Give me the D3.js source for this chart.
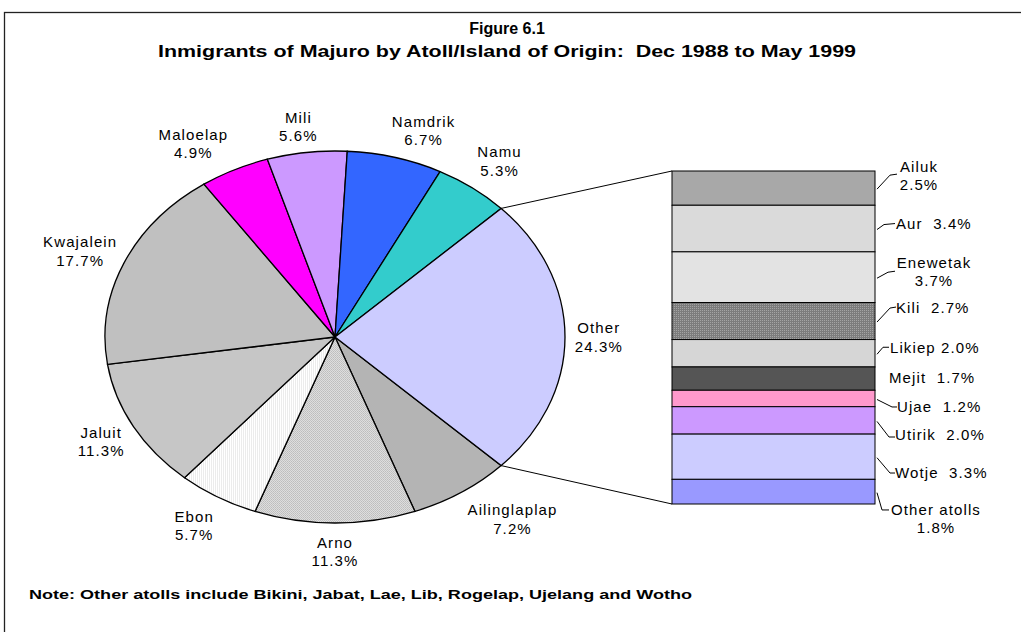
<!DOCTYPE html>
<html>
<head>
<meta charset="utf-8">
<script src="https://cdn.jsdelivr.net/npm/d3@7"></script>
<style>
    body { margin: 0; background: #fff; }
    text { font-family: "Liberation Sans", Arial, sans-serif; fill: #000; white-space: pre; }
</style>
</head>
<body>
<svg id="chart" width="1021" height="632"></svg>
<script>
// pie slices, clockwise, "Other" last (it is split out into the bar)
const pieNames = ['Ailinglaplap', 'Arno', 'Ebon', 'Jaluit', 'Kwajalein', 'Maloelap', 'Mili', 'Namdrik', 'Namu', 'Other'];
const pieValues = [7.2, 11.3, 5.7, 11.3, 17.7, 4.9, 5.6, 6.7, 5.3, 24.3];
const pieFills = ['#b4b4b4', 'url(#pat-arno)', 'url(#pat-ebon)', '#c6c6c6', '#c0c0c0', '#ff00ff', '#cc99ff', '#3366ff', '#33cccc', '#ccccff'];

// breakdown of "Other", top to bottom
const barNames = ['Ailuk', 'Aur', 'Enewetak', 'Kili', 'Likiep', 'Mejit', 'Ujae', 'Utirik', 'Wotje', 'Other atolls'];
const barValues = [2.5, 3.4, 3.7, 2.7, 2.0, 1.7, 1.2, 2.0, 3.3, 1.8];
const barFills = ['#a8a8a8', '#dadada', '#e3e3e3', 'url(#pat-kili)', '#d6d6d6', '#555555', '#ff99cc', '#cc99ff', '#ccccff', '#9999ff'];

const titleLines = ['Figure 6.1', 'Inmigrants of Majuro by Atoll/Island of Origin:  Dec 1988 to May 1999'];
const noteText = 'Note: Other atolls include Bikini, Jabat, Lae, Lib, Rogelap, Ujelang and Wotho';

document.addEventListener('DOMContentLoaded', function() {
    const svg = d3.select('#chart');
    const cx = 335, cy = 337, rx = 230, ry = 186;
    const fmt = v => v.toFixed(1) + '%';

    // frame
    svg.append('rect')
        .attr('x', 4.5).attr('y', 12.5)
        .attr('width', 1040).attr('height', 650)
        .attr('fill', 'none').attr('stroke', '#222').attr('stroke-width', 1.3);

    // patterns
    const defs = svg.append('defs');
    const ap = defs.append('pattern').attr('id', 'pat-arno')
        .attr('patternUnits', 'userSpaceOnUse').attr('width', 2).attr('height', 2)
        .attr('patternTransform', `scale(1,${rx / ry})`);
    ap.append('rect').attr('width', 2).attr('height', 2).attr('fill', '#dedede');
    ap.append('rect').attr('width', 1).attr('height', 1).attr('fill', '#bdbdbd');
    ap.append('rect').attr('x', 1).attr('y', 1).attr('width', 1).attr('height', 1).attr('fill', '#c4c4c4');
    const eb = defs.append('pattern').attr('id', 'pat-ebon')
        .attr('patternUnits', 'userSpaceOnUse').attr('width', 2).attr('height', 2);
    eb.append('rect').attr('width', 2).attr('height', 2).attr('fill', '#ffffff');
    eb.append('rect').attr('width', 1).attr('height', 2).attr('fill', '#ececec');
    const kp = defs.append('pattern').attr('id', 'pat-kili')
        .attr('patternUnits', 'userSpaceOnUse').attr('width', 2).attr('height', 2);
    kp.append('rect').attr('width', 2).attr('height', 2).attr('fill', '#7c7c7c');
    kp.append('rect').attr('width', 1).attr('height', 1).attr('fill', '#a4a4a4');

    // title
    svg.selectAll('.title').data(titleLines).enter().append('text')
        .attr('class', 'title')
        .attr('x', 507)
        .attr('y', (d, i) => i === 0 ? 34 : 57)
        .attr('text-anchor', 'middle')
        .attr('font-size', '16px')
        .attr('font-weight', 'bold')
        .each(function(d, i) {
            if (i === 1) d3.select(this).attr('textLength', 698).attr('lengthAdjust', 'spacingAndGlyphs');
        })
        .text(d => d);

    // pie (elliptical: circle squashed vertically)
    const otherW = pieValues[pieValues.length - 1] / d3.sum(pieValues) * 2 * Math.PI;
    const start = Math.PI / 2 + otherW / 2;
    const pie = d3.pie().sort(null).value(d => d).startAngle(start).endAngle(start + 2 * Math.PI);
    const arcs = pie(pieValues);
    const arc = d3.arc().innerRadius(0).outerRadius(rx);
    const pt = (a, k) => [cx + rx * k * Math.sin(a), cy - ry * k * Math.cos(a)];

    svg.append('g')
        .attr('transform', `translate(${cx},${cy}) scale(1,${ry / rx})`)
        .selectAll('path').data(arcs).enter().append('path')
        .attr('d', arc)
        .attr('fill', (d, i) => pieFills[i])
        .attr('stroke', '#000')
        .attr('stroke-width', 1.3)
        .attr('vector-effect', 'non-scaling-stroke');

    // pie labels: placed just outside the ellipse, nudged like the original
    const pieNudge = [[31, 2], [0, -1], [-5, 3], [0, 1], [-10, 0], [-25, 1], [-4, 4], [19, 2], [5, -3], [-3, 0]];
    const pl = svg.selectAll('.pielabel').data(arcs).enter().append('text')
        .attr('class', 'pielabel')
        .attr('text-anchor', 'middle')
        .attr('font-size', '15px')
        .attr('letter-spacing', '1.1px')
        .attr('transform', (d, i) => {
            const p = pt((d.startAngle + d.endAngle) / 2, 1.16);
            return `translate(${p[0] + pieNudge[i][0]},${p[1] + pieNudge[i][1]})`;
        });
    pl.append('tspan').attr('x', 0).attr('y', -4).text((d, i) => pieNames[i]);
    pl.append('tspan').attr('x', 0).attr('y', 14.5).text(d => fmt(d.value));

    // bar of "Other"
    const barX0 = 672, barX1 = 875;
    const yScale = d3.scaleLinear().domain([0, d3.sum(barValues)]).range([171, 504]);
    const cum = [0, ...d3.cumsum(barValues)];

    // connectors from the Other slice to the bar
    const other = arcs[arcs.length - 1];
    const p0 = pt(other.startAngle, 1), p1 = pt(other.endAngle, 1);
    svg.append('line').attr('x1', p0[0]).attr('y1', p0[1]).attr('x2', barX0).attr('y2', yScale(0))
        .attr('stroke', '#000').attr('stroke-width', 1);
    svg.append('line').attr('x1', p1[0]).attr('y1', p1[1]).attr('x2', barX0).attr('y2', yScale(cum[cum.length - 1]))
        .attr('stroke', '#000').attr('stroke-width', 1);

    svg.selectAll('.seg').data(barValues).enter().append('rect')
        .attr('class', 'seg')
        .attr('x', barX0)
        .attr('y', (d, i) => yScale(cum[i]))
        .attr('width', barX1 - barX0)
        .attr('height', d => yScale(d) - yScale(0))
        .attr('fill', (d, i) => barFills[i])
        .attr('stroke', '#000')
        .attr('stroke-width', 1);

    // bar labels: [anchor, x, first baseline offset from segment middle, two lines, separator, leader]
    const barLab = [
        ['middle', 919, -16, true, '', [890, -13, 897, -14]],
        ['start', 896, 0, false, '  ', [884, -4, 895, -5]],
        ['middle', 934, -9, true, '', [888, -5, 895, -6]],
        ['start', 896, -8, false, '  ', [890, -13, 896, -14]],
        ['start', 890, 0, false, ' ', [883, -6, 889, -6]],
        ['start', 889, 4, false, '  ', null],
        ['start', 897, 13.5, false, '  ', [892, 8.5, 897, 8.5]],
        ['start', 895, 19.6, false, '  ', [889, 16.6, 895, 16.6]],
        ['start', 895, 21, false, '  ', [890, 16.3, 895, 16.3]],
        ['middle', 936, 23.5, true, '', [882, 18.3, 889, 18.3]]
    ];

    barValues.forEach((v, i) => {
        const mid = yScale((cum[i] + cum[i + 1]) / 2);
        const L = barLab[i];
        const t = svg.append('text')
            .attr('text-anchor', L[0])
            .attr('font-size', '15px')
            .attr('letter-spacing', '1.1px');
        if (L[3]) {
            t.append('tspan').attr('x', L[1]).attr('y', mid + L[2]).text(barNames[i]);
            t.append('tspan').attr('x', L[1]).attr('y', mid + L[2] + 17.5).text(fmt(v));
        } else {
            t.attr('x', L[1]).attr('y', mid + L[2]).text(barNames[i] + L[4] + fmt(v));
        }
        if (L[5]) {
            const ld = L[5];
            svg.append('polyline')
                .attr('points', [[barX1 + 2, mid + 1], [ld[0], mid + ld[1]], [ld[2], mid + ld[3]]].join(' '))
                .attr('fill', 'none')
                .attr('stroke', '#000')
                .attr('stroke-width', 1);
        }
    });

    // footnote
    svg.append('text')
        .attr('x', 29).attr('y', 599)
        .attr('font-size', '12px')
        .attr('font-weight', 'bold')
        .attr('textLength', 663)
        .attr('lengthAdjust', 'spacingAndGlyphs')
        .text(noteText);
});
</script>
</body>
</html>
